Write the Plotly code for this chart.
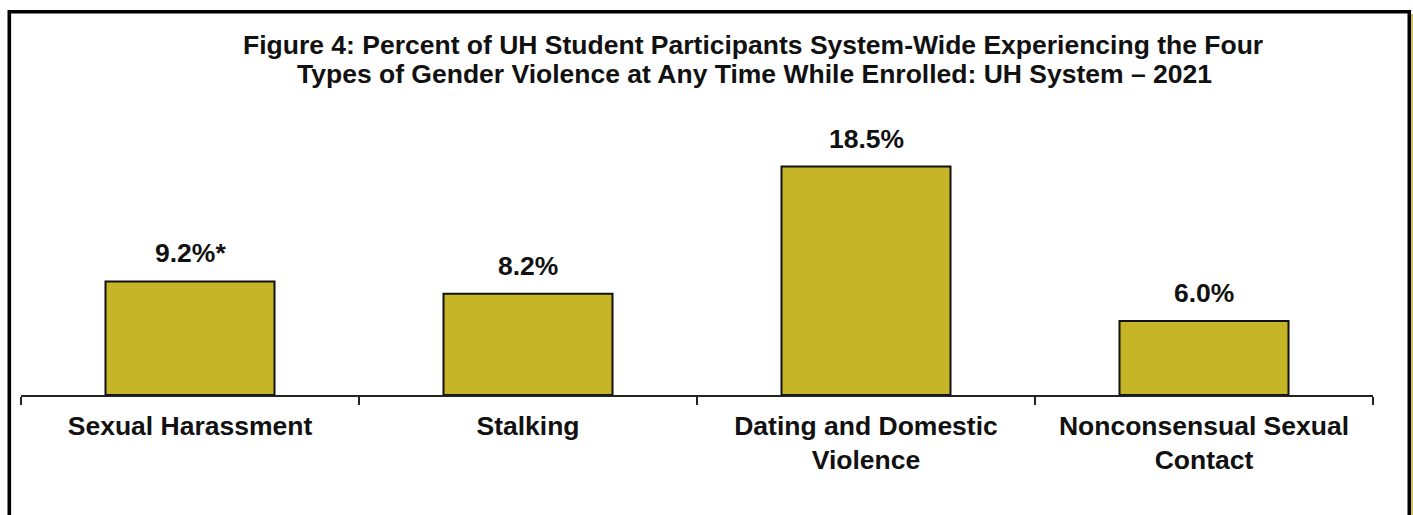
import plotly.graph_objects as go

categories = ["Sexual Harassment", "Stalking", "Dating and Domestic Violence", "Nonconsensual Sexual Contact"]
tick_labels = ["Sexual Harassment", "Stalking", "Dating and Domestic<br>Violence", "Nonconsensual Sexual<br>Contact"]
values = [9.2, 8.2, 18.5, 6.0]
footnote_marks = ["*", "", "", ""]

title_line1 = "Figure 4: Percent of UH Student Participants System-Wide Experiencing the Four"
title_line2 = "Types of Gender Violence at Any Time While Enrolled: UH System \u2013 2021"

W, H = 1413, 515
L, R = 21, 1373      # plot area horizontal pixel extent
T, B = 148, 395      # plot area vertical pixel extent
YMAX = 20

FONT = "Liberation Sans, Arial, sans-serif"
BAR_COLOR = "#C6B527"
FS = 26.5

def px_x(p):
    """figure x pixel -> paper fraction"""
    return (p - L) / (R - L)

def px_y(p):
    """figure y pixel -> paper fraction"""
    return (B - p) / (B - T)

fig = go.Figure()
fig.add_trace(go.Bar(
    x=categories,
    y=values,
    marker=dict(color=BAR_COLOR, line=dict(color="#111111", width=2)),
    hoverinfo="skip",
))

annotations = []
for c, v, m in zip(categories, values, footnote_marks):
    annotations.append(dict(
        x=c, y=v, xref="x", yref="y",
        text=f"<b>{v:.1f}%{m}</b>",
        showarrow=False, yanchor="bottom", xanchor="center",
        yshift=11,
        font=dict(family=FONT, size=FS, color="#111111"),
    ))

annotations.append(dict(
    x=px_x(753), y=px_y(45), xref="paper", yref="paper",
    text=f"<b>{title_line1}</b>", showarrow=False,
    xanchor="center", yanchor="middle",
    font=dict(family=FONT, size=FS, color="#111111"),
))
annotations.append(dict(
    x=px_x(754), y=px_y(74.5), xref="paper", yref="paper",
    text=f"<b>{title_line2}</b>", showarrow=False,
    xanchor="center", yanchor="middle",
    font=dict(family=FONT, size=FS, color="#111111"),
))

shapes = [
    # outer frame
    dict(type="path", xref="paper", yref="paper",
         path=f"M {px_x(9.3)} {px_y(540)} L {px_x(9.3)} {px_y(11.7)} L {px_x(1409.3)} {px_y(11.7)} L {px_x(1409.3)} {px_y(540)}",
         line=dict(color="#000000", width=3.6)),
    # thin olive shadow on right edge
    dict(type="line", xref="paper", yref="paper",
         x0=px_x(1412), x1=px_x(1412), y0=px_y(14), y1=px_y(540),
         line=dict(color=BAR_COLOR, width=1.6)),
]

fig.update_layout(
    width=W, height=H,
    margin=dict(l=L, r=W - R, t=T, b=H - B, pad=0),
    paper_bgcolor="white", plot_bgcolor="white",
    showlegend=False,
    bargap=0.5,
    annotations=annotations,
    shapes=shapes,
    xaxis=dict(
        tickmode="array", tickvals=categories, ticktext=[f"<b>{t}</b>" for t in tick_labels],
        tickson="boundaries", ticks="outside", ticklen=8, tickwidth=1.8, tickcolor="#222222",
        showline=True, linecolor="#222222", linewidth=1.8,
        showgrid=False, zeroline=False,
        tickfont=dict(family=FONT, size=FS, color="#111111"),
        ticklabelstandoff=6,
        range=[-0.5, 3.5], fixedrange=True,
    ),
    yaxis=dict(
        range=[0, YMAX], visible=False, showgrid=False, zeroline=False, fixedrange=True,
    ),
)

# Place the figure flush with the window (no default body margin, no scrollbars).
page_css = ("document.body.style.margin='0';"
            "document.body.style.overflow='hidden';"
            "document.documentElement.style.overflow='hidden';")

fig.write_html("out.html", config={"displayModeBar": False}, post_script=page_css)
